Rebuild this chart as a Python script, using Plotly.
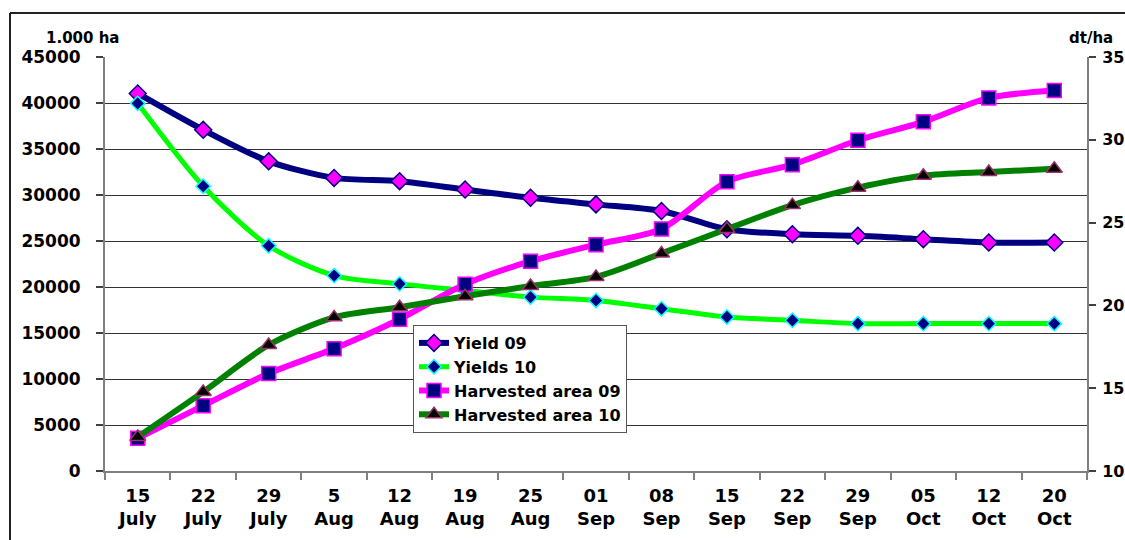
import plotly.graph_objects as go

# Harvest progress: weekly observation dates (day / month)
days = ["15", "22", "29", "5", "12", "19", "25", "01", "08", "15", "22", "29", "05", "12", "20"]
months = ["July", "July", "July", "Aug", "Aug", "Aug", "Aug", "Sep", "Sep", "Sep", "Sep", "Sep", "Oct", "Oct", "Oct"]
categories = [f"{d}<br>{m}" for d, m in zip(days, months)]

# Yields, dt/ha (right axis)
yield_09 = [32.8, 30.6, 28.7, 27.7, 27.5, 27.0, 26.5, 26.1, 25.7, 24.6, 24.3, 24.2, 24.0, 23.8, 23.8]
yields_10 = [32.2, 27.2, 23.6, 21.8, 21.3, 20.9, 20.5, 20.3, 19.8, 19.3, 19.1, 18.9, 18.9, 18.9, 18.9]

# Harvested area, 1.000 ha (left axis)
harvested_09 = [3550, 7100, 10600, 13300, 16500, 20300, 22800, 24600, 26300, 31450, 33300, 35950, 37950, 40550, 41350]
harvested_10 = [3700, 8600, 13700, 16700, 17800, 19000, 20100, 21100, 23650, 26300, 28900, 30800, 32100, 32500, 32850]

FONT = "DejaVu Sans"
NAVY = "#000080"
MAGENTA = "#FF00FF"
LIME = "#00FF00"
GREEN = "#008000"

fig = go.Figure()

fig.add_trace(go.Scatter(
    x=categories, y=yield_09, name="Yield 09", yaxis="y",
    mode="lines+markers", line=dict(color=NAVY, width=6, shape="spline", smoothing=0.8),
    marker=dict(symbol="diamond", size=13, color=MAGENTA, line=dict(color=NAVY, width=1.5)),
))
fig.add_trace(go.Scatter(
    x=categories, y=yields_10, name="Yields 10", yaxis="y",
    mode="lines+markers", line=dict(color=LIME, width=5, shape="spline", smoothing=0.8),
    marker=dict(symbol="diamond", size=11, color=NAVY, line=dict(color="#00FFFF", width=1.5)),
))
fig.add_trace(go.Scatter(
    x=categories, y=harvested_09, name="Harvested area 09", yaxis="y2",
    mode="lines+markers", line=dict(color=MAGENTA, width=6, shape="spline", smoothing=0.8),
    marker=dict(symbol="square", size=14, color=NAVY, line=dict(color=MAGENTA, width=1.5)),
))
fig.add_trace(go.Scatter(
    x=categories, y=harvested_10, name="Harvested area 10", yaxis="y2",
    mode="lines+markers", line=dict(color=GREEN, width=6, shape="spline", smoothing=0.8),
    marker=dict(symbol="triangle-up", size=14, color="#000000", line=dict(color="#993366", width=1.5)),
))

L, R, T, B = 105, 38, 57, 69
W, H = 1125, 540
pw, ph = W - L - R, H - T - B


def px(x):
    return (x - L) / pw


def py(y):
    return (H - B - y) / ph


tick_font = dict(family=FONT, size=17, color="#000000", weight="bold")

fig.update_layout(
    width=W, height=H,
    margin=dict(l=L, r=R, t=T, b=B, pad=0, autoexpand=False),
    paper_bgcolor="white", plot_bgcolor="white",
    showlegend=True,
    xaxis=dict(
        type="category", range=[-0.5, 14.5], tickson="boundaries",
        ticks="outside", ticklen=7, tickcolor="#808080", tickwidth=2,
        showline=True, linecolor="#808080", linewidth=2, showgrid=False,
        tickfont=dict(family=FONT, size=18, color="#000000", weight="bold"),
        ticklabelstandoff=7, automargin=False,
    ),
    yaxis=dict(
        side="right", range=[10, 35], dtick=5, showgrid=False, zeroline=False,
        showline=True, linecolor="#808080", linewidth=2,
        ticks="outside", ticklen=7, tickcolor="#404040", tickwidth=1.5,
        tickfont=dict(family=FONT, size=16, color="#000000", weight="bold"),
        ticklabelstandoff=3, automargin=False,
    ),
    yaxis2=dict(
        side="left", overlaying="y", range=[0, 45000], dtick=5000, tickformat="d",
        showgrid=True, gridcolor="#333333", gridwidth=1, zeroline=False,
        showline=True, linecolor="#808080", linewidth=2,
        ticks="outside", ticklen=7, tickcolor="#404040", tickwidth=1.5,
        tickfont=tick_font, ticklabelstandoff=12, automargin=False,
    ),
    legend=dict(
        x=px(413), y=py(325), xanchor="left", yanchor="top",
        bgcolor="white", bordercolor="#555555", borderwidth=1,
        font=dict(family=FONT, size=16, color="#000000", weight="bold"),
        tracegroupgap=0, itemwidth=30,
    ),
    annotations=[
        dict(text="1.000 ha", x=px(82), y=py(38), xref="paper", yref="paper",
             showarrow=False, xanchor="center", yanchor="middle",
             font=dict(family=FONT, size=15, color="#000000", weight="bold")),
        dict(text="dt/ha", x=px(1091), y=py(38), xref="paper", yref="paper",
             showarrow=False, xanchor="center", yanchor="middle",
             font=dict(family=FONT, size=15, color="#000000", weight="bold")),
    ],
    shapes=[
        dict(type="line", xref="paper", yref="paper", x0=px(10), x1=px(1130), y0=py(13), y1=py(13),
             line=dict(color="#222222", width=2)),
        dict(type="line", xref="paper", yref="paper", x0=px(10), x1=px(10), y0=py(13), y1=py(545),
             line=dict(color="#222222", width=2)),
    ],
)

fig.write_html("out.html")
